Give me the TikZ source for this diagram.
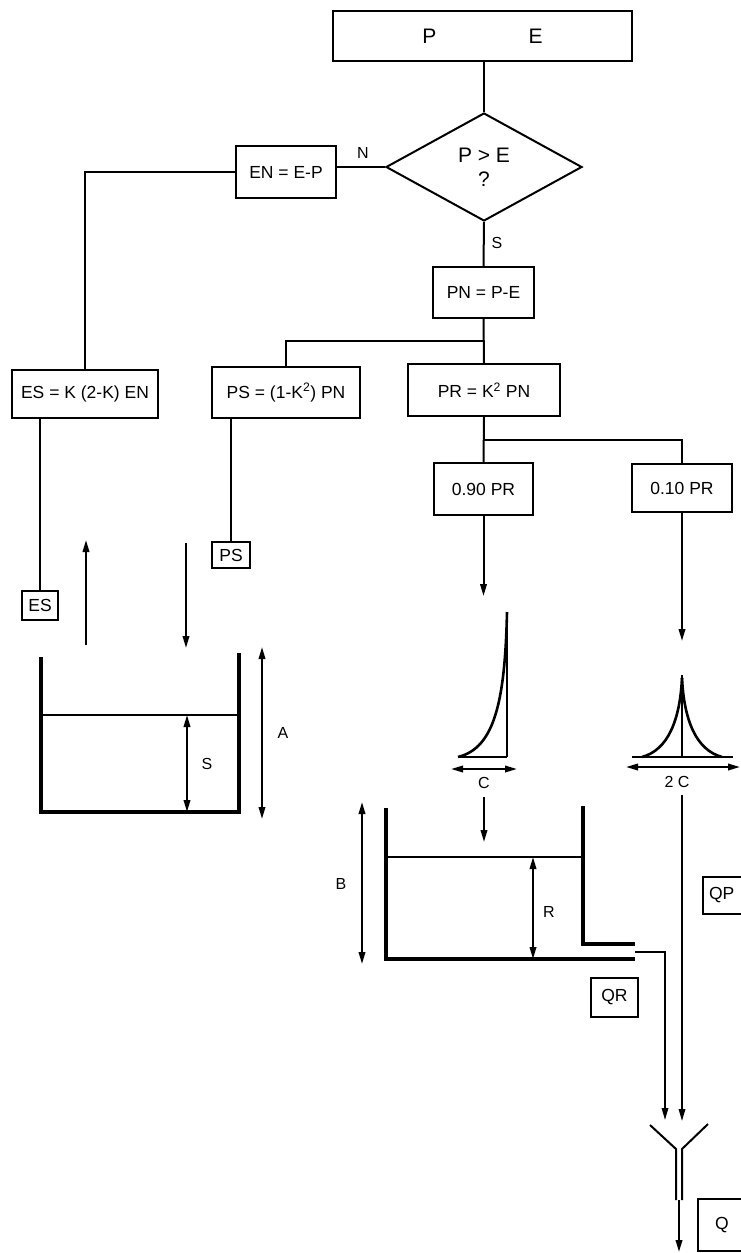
\documentclass[tikz,border=0pt]{standalone}
\usepackage{fontspec}
\setmainfont{Liberation Sans}
\usetikzlibrary{shapes.geometric,arrows.meta}
\newcommand{\boxfont}{\fontsize{17.5}{20}\selectfont}
\newcommand{\bigfont}{\fontsize{21}{24}\selectfont}
\newcommand{\lblfont}{\fontsize{16}{19}\selectfont}
\begin{document}
\begin{tikzpicture}[x=1pt,y=-1pt,
  >={Triangle[length=12pt,width=6.5pt]},
  box/.style={draw,line width=2pt,inner sep=0pt,font=\boxfont},
  lbl/.style={inner sep=0pt,font=\lblfont},
  flow/.style={line width=2pt},
  wall/.style={line width=4pt,line join=miter},
  water/.style={line width=1.6pt},
  dim/.style={line width=2pt,<->},
  peak/.style={line width=2.6pt}]
\useasboundingbox (0,0) rectangle (741,1253);
\node[box,minimum width=299pt,minimum height=50pt,font=\bigfont] (pe) at (482.5,36) {P\hspace{92pt}E};
\node[box,diamond,minimum width=196pt,minimum height=108pt,align=center,font=\bigfont] (test) at (484,167) {P > E\\?};
\node[box,minimum width=100pt,minimum height=52pt] (en) at (286,172) {EN = E-P};
\node[box,minimum width=101pt,minimum height=51pt] (pn) at (483.5,292.5) {PN = P-E};
\node[box,minimum width=146pt,minimum height=48pt] (es) at (85,394) {ES = K (2-K) EN};
\node[box,minimum width=148pt,minimum height=51pt] (ps) at (286,392.5) {PS = (1-K\textsuperscript{2}) PN};
\node[box,minimum width=152pt,minimum height=52pt] (pr) at (484,390) {PR = K\textsuperscript{2} PN};
\node[box,minimum width=99pt,minimum height=52pt] (pra) at (483.5,489) {0.90 PR};
\node[box,minimum width=100pt,minimum height=48pt] (prb) at (682,488) {0.10 PR};
\node[box,minimum width=38pt,minimum height=26pt] (psout) at (231,555) {PS};
\node[box,minimum width=36pt,minimum height=29pt] (esout) at (40,605.5) {ES};
\node[box,minimum width=47pt,minimum height=39pt] (qr) at (614.5,997.5) {QR};
\node[box,minimum height=37pt,anchor=west,inner xsep=6pt,text width=36pt] (qp) at (702,895.5) {QP};
\node[box,minimum height=52pt,anchor=west,inner xsep=17pt,text width=30pt] (q) at (697,1225) {Q};
\node[lbl] (no) at (363,153) {N};
\node[lbl] (yes) at (497,243) {S};
\draw[flow] (test.north |- pe.south) -- (test.north);
\draw[flow] (test.west) -- (test.west -| en.east);
\draw[flow] (en.west) -| (es.north);
\draw[flow] (test.south) -- (pn.north);
\draw[flow] (pn.south) -- (pr.north);
\coordinate (ja) at (484,341);
\draw[flow] (ja) -| (ps.north);
\draw[flow] (pr.south) -- (pra.north);
\coordinate (jb) at (484,440);
\draw[flow] (jb) -| (prb.north);
\draw[flow] (esout.north) -- (esout.north |- es.south);
\draw[flow] (psout.north) -- (psout.north |- ps.south);
\coordinate (evap) at (86,645);
\coordinate (rain) at (186,543);
\draw[flow,->] (evap) -- ++(0,-105);
\draw[flow,->] (rain) -- ++(0,105);
\draw[flow,->] (pra.south) -- ++(0,80);
\draw[flow,->] (prb.south) -- ++(0,128);
\draw[wall] (41,657) -- (41,812) -- (239,812) -- (239,653);
\draw[water] (41,715) -- (239,715);
\draw[dim] (187,715) -- (187,812);
\node[lbl] (ls) at (207,764) {S};
\draw[dim] (262,647) -- (262,819);
\node[lbl] (la) at (283,733) {A};
\draw[line width=1.3pt] (507,612) -- (507,757);
\draw[line width=2.2pt] (458,757) -- (507,757);
\draw[peak] (458,757) .. controls (495,748) and (505,700) .. (507,612);
\draw[dim] (451,769) -- (517,769);
\node[lbl] (lc) at (484,783) {C};
\draw[line width=1.3pt] (682,675) -- (682,757);
\draw[line width=2.2pt] (632,757) -- (733,757);
\draw[peak] (642,757) .. controls (668,750) and (680,720) .. (682,678);
\draw[peak] (722,757) .. controls (696,750) and (684,720) .. (682,678);
\draw[dim] (626,767) -- (740,767);
\node[lbl] (ltc) at (677,782) {2 C};
\draw[flow,->] (484,797) -- (484,842);
\draw[wall] (386,808) -- (386,959) -- (635,959);
\draw[wall] (583,806) -- (583,944) -- (635,944);
\draw[water] (386,857) -- (583,857);
\draw[dim] (533,857) -- (533,959);
\node[lbl] (lr) at (549,912) {R};
\draw[dim] (362,802) -- (362,964);
\node[lbl] (lb) at (341,884) {B};
\coordinate (outr) at (635,952);
\draw[water,->] (outr) -- (665,952) -- (665,1120);
\draw[water,->] (682,795) -- (682,1121);
\draw[flow] (650,1125) -- (676,1149) -- (676,1200);
\draw[flow] (708,1124) -- (682,1149) -- (682,1200);
\draw[flow,->] (679,1200) -- (679,1252);
\end{tikzpicture}
\end{document}
